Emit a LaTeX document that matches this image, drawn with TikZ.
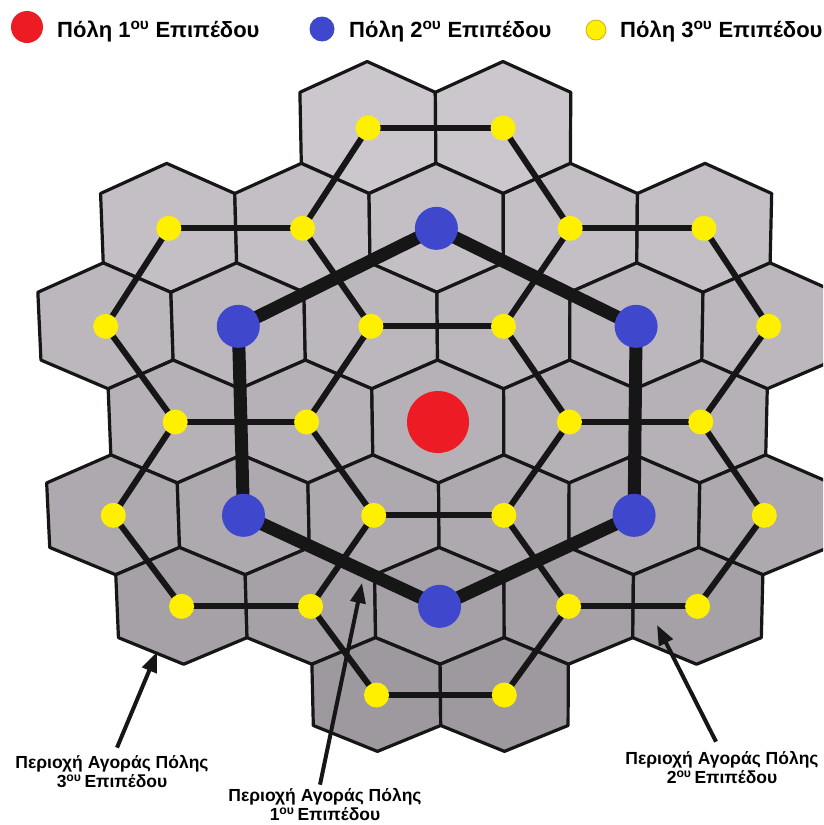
\documentclass[tikz,border=0pt]{standalone}
\usepackage{fontspec}
\setmainfont{Liberation Sans}
\usetikzlibrary{arrows.meta}
\definecolor{cred}{RGB}{237,28,36}
\definecolor{cblue}{RGB}{63,72,204}
\definecolor{cyel}{RGB}{255,240,0}
\definecolor{cyeledge}{RGB}{215,175,20}
\definecolor{hexcol}{RGB}{204,199,205}
\definecolor{ink}{RGB}{22,22,22}
\pgfdeclarelayer{bg}
\pgfdeclarelayer{mid}
\pgfsetlayers{bg,mid,main}
\begin{document}
\begin{tikzpicture}[x=1pt,y=-1pt,
  declare function={px(\xa,\xb)=438+0.8*\xb+\xa*(65.7-0.6*\xb); py(\xb)=422+94.5*\xb-1.167*\xb*\xb;},
  hexcell/.style={draw=ink,line width=3.2pt,line join=round},
  link/.style={draw=ink,line width=6pt},
  biglink/.style={draw=ink,line width=13pt,line join=round},
  ydot/.style={circle,fill=cyel,inner sep=0pt,minimum size=25pt},
  bdot/.style={circle,fill=cblue,inner sep=0pt,minimum size=43pt},
  rdot/.style={circle,fill=cred,inner sep=0pt,minimum size=62pt},
  lab/.style={font=\bfseries\fontsize{17.5}{19}\selectfont,align=center,inner sep=0pt},
  leg/.style={font=\bfseries\fontsize{22}{26}\selectfont,anchor=base west,inner sep=0pt},
  arr/.style={draw=ink,line width=4pt,-{Triangle[length=20pt,width=15pt]}}
]
\useasboundingbox (0,0) rectangle (823,825);

% hexagonal cells
\begin{pgfonlayer}{bg}
\fill[white] (0,0) rectangle (823,825);
\clip (0,0) rectangle (823,825);
\foreach \u/\t in {-1/-3,1/-3, -4/-2,-2/-2,0/-2,2/-2,4/-2, -5/-1,-3/-1,-1/-1,1/-1,3/-1,5/-1, -4/0,-2/0,0/0,2/0,4/0, -5/1,-3/1,-1/1,1/1,3/1,5/1, -4/2,-2/2,0/2,2/2,4/2, -1/3,1/3}{
  \pgfmathtruncatemacro\g{89-3.7*\t}
  \filldraw[hexcell,fill=hexcol!\g!black]
    ({px(\u,\t-0.65)},{py(\t-0.65)}) --
    ({px(\u+1,\t-0.35)},{py(\t-0.35)}) --
    ({px(\u+1,\t+0.35)},{py(\t+0.35)}) --
    ({px(\u,\t+0.65)},{py(\t+0.65)}) --
    ({px(\u-1,\t+0.35)},{py(\t+0.35)}) --
    ({px(\u-1,\t-0.35)},{py(\t-0.35)}) -- cycle;
}
\end{pgfonlayer}

% towns
\foreach \u/\t in {-1/-3,1/-3,-4/-2,-2/-2,2/-2,4/-2,-5/-1,-1/-1,1/-1,5/-1,-4/0,-2/0,2/0,4/0,-5/1,-1/1,1/1,5/1,-4/2,-2/2,2/2,4/2,-1/3,1/3}
  \node[ydot] (h\u_\t) at ({px(\u,\t)},{py(\t)}) {};
\node[bdot] (b1) at ({px(0,-2)},{py(-2)}) {};
\node[bdot] (b2) at ({px(3,-1)},{py(-1)}) {};
\node[bdot] (b3) at ({px(3,1)},{py(1)}) {};
\node[bdot] (b4) at ({px(0,2)},{py(2)}) {};
\node[bdot] (b5) at ({px(-3,1)},{py(1)}) {};
\node[bdot] (b6) at ({px(-3,-1)},{py(-1)}) {};
\node[rdot] (r) at ({px(0,0)},{py(0)}) {};

% links
\begin{pgfonlayer}{mid}
\foreach \a/\b in {h-1_-3/h1_-3, h1_-3/h2_-2, h2_-2/h1_-1, h1_-1/h-1_-1, h-1_-1/h-2_-2, h-2_-2/h-1_-3,
  h1_-1/h2_0, h2_0/h1_1, h1_1/h-1_1, h-1_1/h-2_0, h-2_0/h-1_-1,
  h-4_-2/h-2_-2, h-2_0/h-4_0, h-4_0/h-5_-1, h-5_-1/h-4_-2,
  h2_-2/h4_-2, h4_-2/h5_-1, h5_-1/h4_0, h4_0/h2_0,
  h-1_1/h-2_2, h-2_2/h-4_2, h-4_2/h-5_1, h-5_1/h-4_0,
  h4_0/h5_1, h5_1/h4_2, h4_2/h2_2, h2_2/h1_1,
  h2_2/h1_3, h1_3/h-1_3, h-1_3/h-2_2}
  \draw[link] (\a.center) -- (\b.center);
\draw[biglink] (b1.center) -- (b2.center) -- (b3.center) -- (b4.center)
  -- (b5.center) -- (b6.center) -- cycle;
\end{pgfonlayer}

% legend
\node[circle,fill=cred,inner sep=0pt,minimum size=32pt] (lr) at (27,27) {};
\node[leg] (tr) at (57,37) {Πόλη 1\textsuperscript{ου} Επιπέδου};
\node[circle,fill=cblue,inner sep=0pt,minimum size=25pt] (lb) at (322,29) {};
\node[leg] (tb) at (349,37) {Πόλη 2\textsuperscript{ου} Επιπέδου};
\node[circle,fill=cyel,draw=cyeledge,line width=0.8pt,inner sep=0pt,minimum size=20pt] (ly) at (596,30) {};
\node[leg] (ty) at (620,37) {Πόλη 3\textsuperscript{ου} Επιπέδου};

% market area labels
\node[lab] (l3) at (112,772) {Περιοχή Αγοράς Πόλης\\3\textsuperscript{ου}\,Επιπέδου};
\node[lab] (l1) at (325,805) {Περιοχή Αγοράς Πόλης\\1\textsuperscript{ου}\,Επιπέδου};
\node[lab] (l2) at (722,768) {Περιοχή Αγοράς Πόλης\\2\textsuperscript{ου}\,Επιπέδου};
\coordinate (a3) at (157,652);
\coordinate (a1) at (362,583);
\coordinate (a2) at (657,625);
\draw[arr] ([xshift=5pt,yshift=8pt]l3.north) -- (a3);
\draw[arr] ([xshift=-5pt,yshift=4pt]l1.north) -- (a1);
\draw[arr] ([xshift=-6pt,yshift=10pt]l2.north) -- (a2);
\end{tikzpicture}
\end{document}
